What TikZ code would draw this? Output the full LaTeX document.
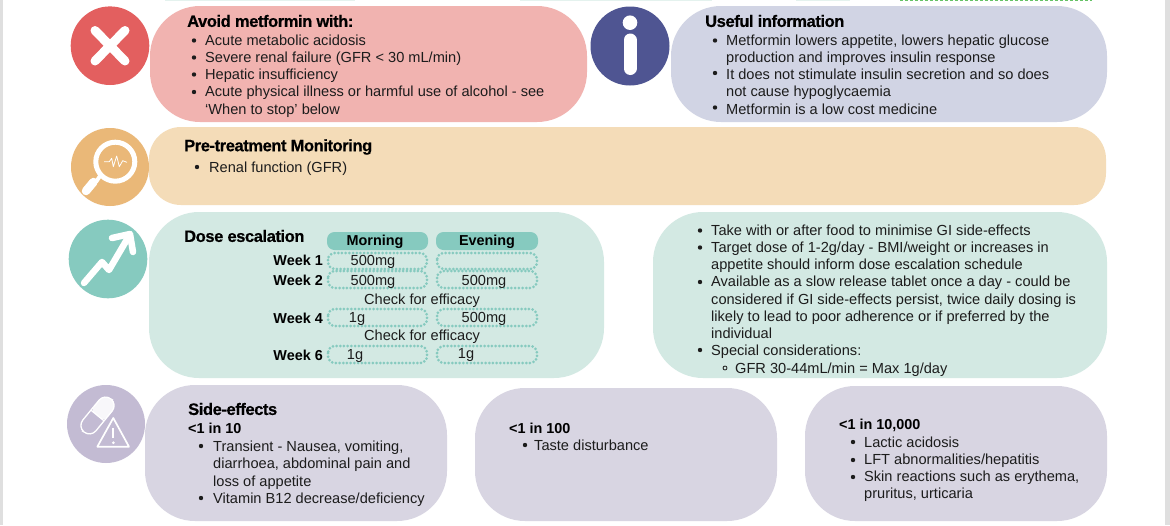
\documentclass[tikz,border=0pt]{standalone}
\usepackage{fontspec}
\setmainfont{Liberation Sans}
\newfontfamily\headf[BoldFeatures={FakeBold=0.5,LetterSpace=-2.5}]{Liberation Sans}
\definecolor{cRed}{HTML}{E35F5F}
\definecolor{cRedL}{HTML}{F1B3B0}
\definecolor{cBlue}{HTML}{4F5592}
\definecolor{cBlueL}{HTML}{D1D4E4}
\definecolor{cOr}{HTML}{EAB878}
\definecolor{cOrL}{HTML}{F4DCB8}
\definecolor{cTeal}{HTML}{86CABF}
\definecolor{cTealL}{HTML}{D3E9E3}
\definecolor{cPur}{HTML}{C3BBD3}
\definecolor{cPurL}{HTML}{D8D5E2}
\definecolor{cTxt}{HTML}{1C1C1C}
\tikzset{
  x=1pt,y=-1pt,
  body/.style={anchor=north west,inner sep=0pt,align=left,font=\fontsize{14.6}{17.2}\selectfont,text=cTxt},
  head/.style={anchor=west,inner sep=0pt,font=\headf\fontsize{16.5}{19}\selectfont\bfseries,text=black},
  week/.style={anchor=east,inner sep=0pt,font=\fontsize{14.4}{17}\selectfont\bfseries,text=black},
  dose/.style={anchor=center,inner sep=0pt,font=\fontsize{14.6}{17}\selectfont,text=cTxt},
  slot/.style={draw=cTeal,line width=3pt,line cap=round,dash pattern=on 0pt off 3.7pt,rounded corners=7pt},
  hdr/.style={fill=cTeal,rounded corners=7.5pt},
  hdrt/.style={anchor=center,inner sep=0pt,font=\fontsize{14.4}{17}\selectfont\bfseries,text=black},
  icon/.style={white,line cap=round,line join=round}
}
\newcommand{\pillbox}[6]{\fill[#6,rounded corners=#5] (#1,#2) rectangle (#3,#4);}
\newcommand{\bul}[2]{\fill[cTxt] (#1,#2) circle (2.2);}
\begin{document}
\begin{tikzpicture}
\useasboundingbox (0,0) rectangle (1170,525);
\fill[white] (0,0) rectangle (1170,525);
\fill[gray!25] (0,0) rectangle (3,525);
\fill[gray!25] (1165,0) rectangle (1170,525);
% residual strips at top
\fill[cTealL!60] (165,0) rectangle (355,1);
\fill[cTealL!60] (520,0) rectangle (712,1);
\fill[cTealL!60] (796,0) rectangle (850,1);
\draw[green!60!black!60,line width=1.2pt,dash pattern=on 3pt off 2pt] (900,0) -- (1092,0);
% pills
\pillbox{150}{6}{587}{122}{50}{cRedL}
\pillbox{671}{6}{1107}{122}{50}{cBlueL}
\pillbox{149}{127}{1106}{205}{32}{cOrL}
\pillbox{149}{212}{604}{378}{50}{cTealL}
\pillbox{653}{212}{1107}{378}{50}{cTealL}
\pillbox{145}{385}{447}{521}{50}{cPurL}
\pillbox{475}{388}{777}{521}{50}{cPurL}
\pillbox{805}{386}{1107}{521}{50}{cPurL}
% icon discs
\fill[cRed] (110,45.7) circle (39.3);
\fill[cBlue] (630,46) circle (39.5);
\fill[cOr] (110,167) circle (39);
\fill[cTeal] (108,259) circle (39.3);
\fill[cPur] (106,424) circle (39);
% cross
\draw[icon,line width=9pt] (95,30.5) -- (125,61) (125,30.5) -- (95,61);
% info
\fill[white] (630,22.7) circle (7.3);
\draw[icon,line width=13pt] (630,40) -- (630,68.5);
% magnifier
\draw[white,line width=5pt] (115.3,161.7) circle (19.5);
\draw[white,line width=4pt] (100,176) -- (96,182);
\draw[icon,line width=8.5pt] (93.5,182) -- (86,191);
\draw[white,line width=.8pt,line join=round] (104,161.7) -- (109.3,161.7) -- (111.7,158.3) -- (113.3,166.7) -- (116.7,156) -- (119.3,166.7) -- (122.7,160.7) -- (127,162.3);
% arrow
\draw[icon,line width=6.5pt] (84,283) -- (102,262) -- (109,270) -- (129,236);
\draw[icon,line width=6.5pt] (112,238) -- (130,234) -- (133,252);
% capsule and warning sign
\begin{scope}[shift={(97.5,415.5)},rotate=50.7]
\fill[white!88!cPur,rounded corners=8.5pt] (-3,-8.5) rectangle (21.3,8.5);
\fill[cPur] (-4,-9.5) rectangle (0,9.5);
\draw[white,line width=1.3pt,rounded corners=8.5pt] (-21.3,-8.5) rectangle (21.3,8.5);
\draw[white,line width=1.3pt] (0,-8.5) -- (0,8.5);
\end{scope}
\fill[cPur,draw=cPur,line width=6pt,line join=round] (113.3,418) -- (129,446.7) -- (97.3,446.7) -- cycle;
\draw[white,line width=1.7pt,line join=round] (113.3,418) -- (129,446.7) -- (97.3,446.7) -- cycle;
\draw[white,line width=2.3pt] (113.3,428) -- (113.3,438);
\fill[white] (113.3,442.7) circle (1.5);
% Avoid
\node[head] (t1) at (187,21) {Avoid metformin with:};
\bul{194}{40.5}\bul{194}{57.5}\bul{194}{74.5}\bul{194}{92}
\node[body] (b1) at (205,34.5) {Acute metabolic acidosis\\Severe renal failure (GFR < 30 mL/min)\\Hepatic insufficiency\\Acute physical illness or harmful use of alcohol - see\\‘When to stop’ below};
% Useful
\node[head] (t2) at (705,21) {Useful information};
\bul{715}{40.5}\bul{715}{73}\bul{715}{107.5}
\node[body] (b2) at (726,34.5) {Metformin lowers appetite, lowers hepatic glucose\\production and improves insulin response\\It does not stimulate insulin secretion and so does\\not cause hypoglycaemia\\Metformin is a low cost medicine};
% Monitoring
\node[head] (t3) at (184,147) {Pre-treatment Monitoring};
\bul{197}{167}
\node[body] (b3) at (209,161.8) {Renal function (GFR)};
% Dose
\node[head] (t4) at (184,236) {Dose escalation};
\fill[hdr] (327,232) rectangle (428,250);
\fill[hdr] (436,232) rectangle (538,250);
\node[hdrt] (hm) at (375,241.5) {Morning};
\node[hdrt] (he) at (487,241.5) {Evening};
\draw[slot] (328,253) rectangle (427,269);
\draw[slot] (437,253) rectangle (537,269);
\draw[slot] (328,271) rectangle (427,288);
\draw[slot] (437,271) rectangle (537,288);
\draw[slot] (328,309) rectangle (427,326);
\draw[slot] (437,309) rectangle (537,326);
\draw[slot] (328,346) rectangle (427,363);
\draw[slot] (437,346) rectangle (537,363);
\node[week] (w1) at (323,260) {Week 1};
\node[week] (w2) at (323,280) {Week 2};
\node[week] (w4) at (323,318) {Week 4};
\node[week] (w6) at (323,355) {Week 6};
\node[dose] (d1) at (373,262) {500mg};
\node[dose] (d2) at (373,282) {500mg};
\node[dose] (d3) at (484,282) {500mg};
\node[dose] (c1) at (422,300.5) {Check for efficacy};
\node[dose] (d4) at (357,319) {1g};
\node[dose] (d5) at (484,318.5) {500mg};
\node[dose] (c2) at (422,336.5) {Check for efficacy};
\node[dose] (d6) at (355,356) {1g};
\node[dose] (d7) at (466,355) {1g};
% Right teal
\bul{700}{230.5}\bul{700}{247.5}\bul{700}{282}\bul{700}{350}
\draw[cTxt,line width=.8pt] (725,368) circle (2);
\node[body] (b4) at (711,224.5) {Take with or after food to minimise GI side-effects\\Target dose of 1-2g/day - BMI/weight or increases in\\appetite should inform dose escalation schedule\\Available as a slow release tablet once a day - could be\\considered if GI side-effects persist, twice daily dosing is\\likely to lead to poor adherence or if preferred by the\\individual\\Special considerations:};
\node[body] (b5) at (735,363) {GFR 30-44mL/min = Max 1g/day};
% Side effects
\node[head] (t5) at (188,409) {Side-effects};
\node[week,anchor=west] (s1) at (188,428) {<1 in 10};
\bul{201}{446}\bul{201}{498}
\node[body] (b6) at (213,441) {Transient - Nausea, vomiting,\\diarrhoea, abdominal pain and\\loss of appetite\\Vitamin B12 decrease/deficiency};
\node[week,anchor=west] (s2) at (509,428) {<1 in 100};
\bul{525}{445}
\node[body] (b7) at (534,439.5) {Taste disturbance};
\node[week,anchor=west] (s3) at (839,425) {<1 in 10,000};
\bul{853}{442}\bul{853}{460}\bul{853}{477}
\node[body] (b8) at (864,436.5) {Lactic acidosis\\LFT abnormalities/hepatitis\\Skin reactions such as erythema,\\pruritus, urticaria};
\end{tikzpicture}
\end{document}
